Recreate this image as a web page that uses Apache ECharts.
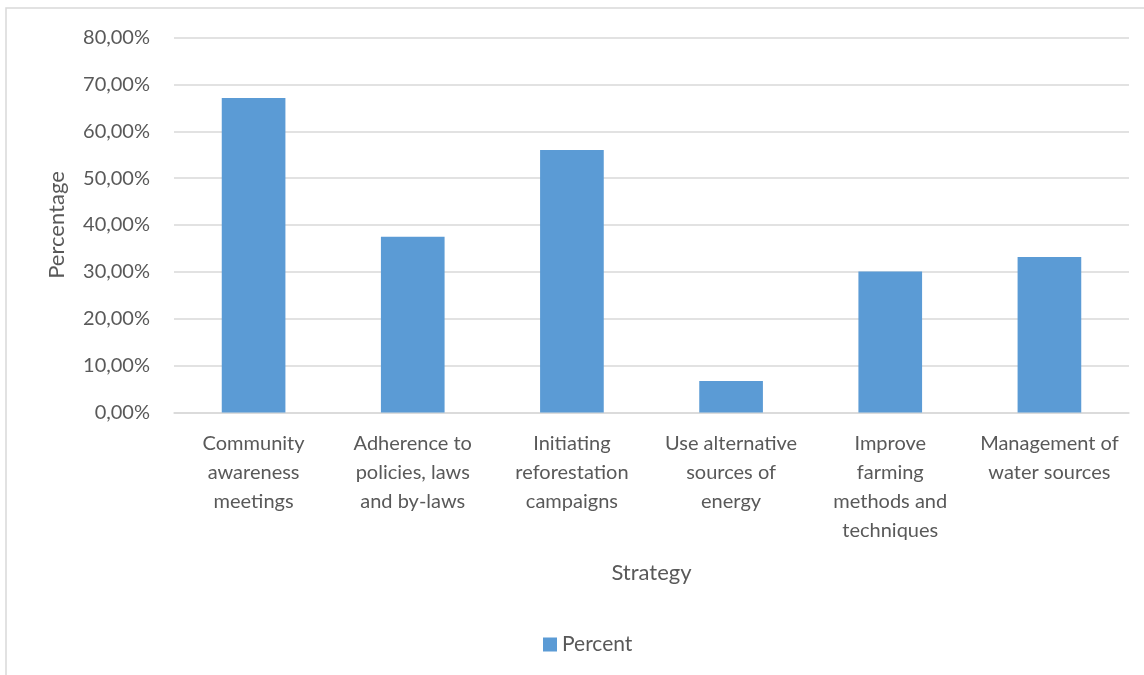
<!DOCTYPE html>
<html>
<head>
<meta charset="utf-8">
<script src="https://cdn.jsdelivr.net/npm/echarts@6/dist/echarts.min.js"></script>
<style>
  html, body { margin: 0; padding: 0; background: #fff; }
  #chart { width: 1144px; height: 675px; }
</style>
</head>
<body>
<div id="chart"></div>
<script>
// Strategies (line breaks as displayed under each bar)
const categories = [
  'Community\nawareness\nmeetings',
  'Adherence to\npolicies, laws\nand by-laws',
  'Initiating\nreforestation\ncampaigns',
  'Use alternative\nsources of\nenergy',
  'Improve\nfarming\nmethods and\ntechniques',
  'Management of\nwater sources'
];
// Share of respondents per strategy, in percent
const percentValues = [67.1, 37.5, 56.0, 6.7, 30.1, 33.2];
const seriesName = 'Percent';

const textColor = '#595959';
const gridColor = '#D9D9D9';
const barColor = '#5B9BD5';
const fontFamily = 'Lato, "Open Sans", "Noto Sans", sans-serif';

const chart = echarts.init(document.getElementById('chart'));
chart.setOption({
  animation: false,
  textStyle: { fontFamily: fontFamily, color: textColor },
  graphic: [{
    type: 'rect',
    shape: { x: 6, y: 8, width: 1160, height: 700 },
    style: { fill: 'none', stroke: '#D9D9D9', lineWidth: 1.5 },
    silent: true
  }],
  grid: { left: 174, right: 15, top: 37.5, bottom: 262.5 },
  legend: {
    data: [seriesName],
    left: 538,
    top: 629,
    icon: 'rect',
    itemWidth: 14,
    itemHeight: 14,
    itemGap: 6,
    textStyle: { color: textColor, fontSize: 21, fontFamily: fontFamily }
  },
  xAxis: {
    type: 'category',
    data: categories,
    name: 'Strategy',
    nameLocation: 'middle',
    nameGap: 149,
    nameTextStyle: { color: textColor, fontSize: 22, fontFamily: fontFamily },
    axisLine: { show: true, lineStyle: { color: gridColor, width: 1.5 } },
    axisTick: { show: false },
    axisLabel: {
      interval: 0,
      margin: 17,
      color: textColor,
      fontSize: 20,
      lineHeight: 29,
      fontFamily: fontFamily
    }
  },
  yAxis: {
    type: 'value',
    min: 0,
    max: 80,
    interval: 10,
    name: 'Percentage',
    nameLocation: 'middle',
    nameGap: 106,
    nameRotate: 90,
    nameTextStyle: { color: textColor, fontSize: 22, fontFamily: fontFamily },
    axisLine: { show: false },
    axisTick: { show: false },
    splitLine: { lineStyle: { color: gridColor, width: 1.5 } },
    axisLabel: {
      margin: 24,
      color: textColor,
      fontSize: 20,
      fontFamily: fontFamily,
      formatter: v => v.toFixed(2).replace('.', ',') + '%'
    }
  },
  series: [{
    name: seriesName,
    type: 'bar',
    data: percentValues,
    barWidth: '40%',
    itemStyle: { color: barColor }
  }]
});
</script>
</body>
</html>
